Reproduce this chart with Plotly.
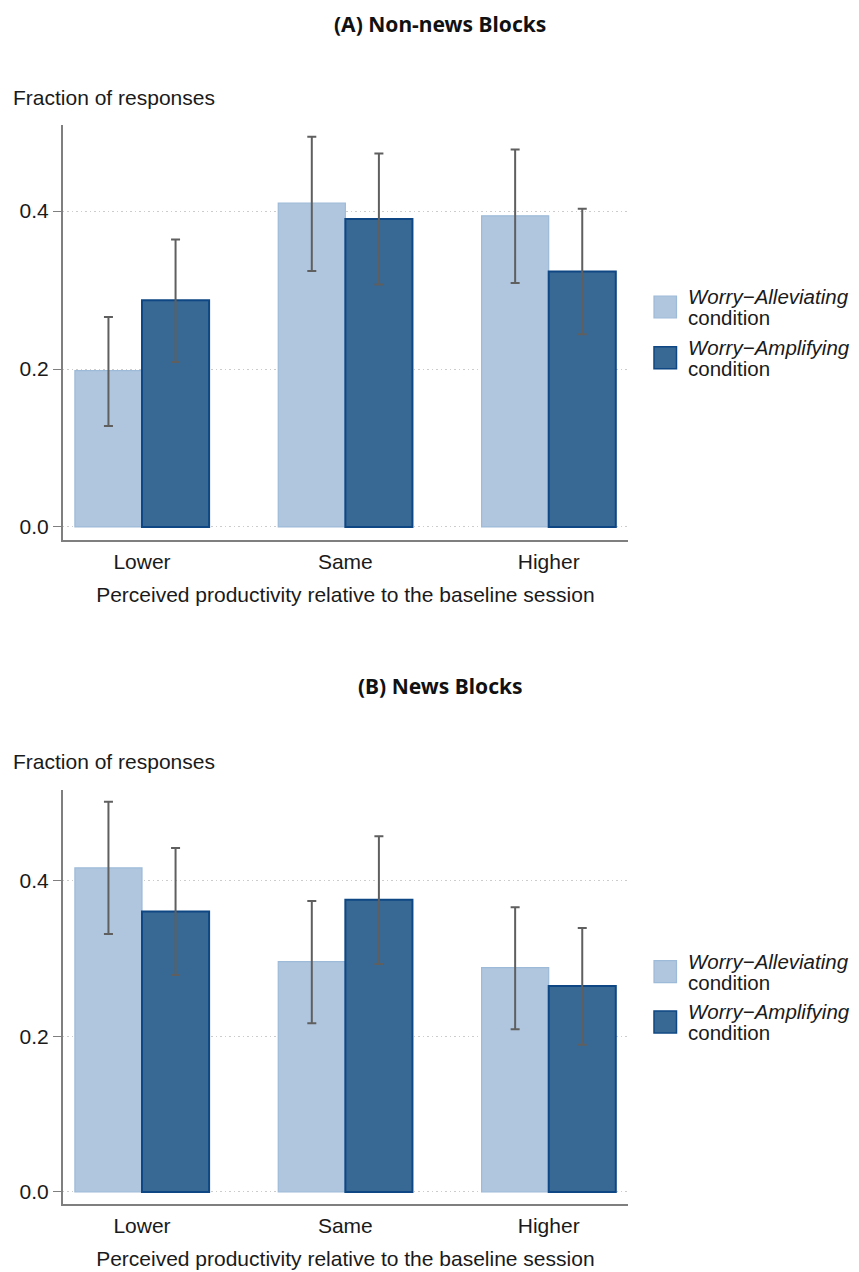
import plotly.graph_objects as go

PAGE_W, PAGE_H = 859, 1272
OFF = 8  # page body margin
W, H = PAGE_W - OFF, PAGE_H - OFF

categories = ["Lower", "Same", "Higher"]
series_names = ["Worry\u2212Alleviating", "Worry\u2212Amplifying"]
series_suffix = "condition"
panel_titles = ["<b>(A) Non-news Blocks</b>", "<b>(B) News Blocks</b>"]
y_ticks = [0.0, 0.2, 0.4]

# Panel A (non-news blocks)
a_allev = [0.198, 0.410, 0.394]
a_allev_hi = [0.266, 0.494, 0.478]
a_allev_lo = [0.128, 0.324, 0.309]
a_ampl = [0.287, 0.390, 0.3235]
a_ampl_hi = [0.364, 0.473, 0.403]
a_ampl_lo = [0.209, 0.307, 0.244]

# Panel B (news blocks)
b_allev = [0.416, 0.2957, 0.288]
b_allev_hi = [0.501, 0.3736, 0.3654]
b_allev_lo = [0.331, 0.2165, 0.209]
b_ampl = [0.360, 0.375, 0.2644]
b_ampl_hi = [0.4416, 0.4566, 0.339]
b_ampl_lo = [0.2786, 0.2927, 0.189]

LIGHT_FILL, LIGHT_LINE = "#b0c6de", "#9dbad8"
DARK_FILL, DARK_LINE = "#386894", "#0e4783"
ERR = "#5f5f5f"
FONT = "Liberation Sans"
TFONT = "Noto Sans"
FS = 21


def px(x):
    return (x - OFF) / W


def py(y):
    return 1 - (y - OFF) / H


fig = go.Figure()


def add_bars(vals, hi, lo, fill, line, lw, xa, ya):
    fig.add_trace(go.Bar(
        x=categories, y=vals, xaxis=xa, yaxis=ya,
        marker=dict(color=fill, line=dict(color=line, width=lw)),
        error_y=dict(type="data", symmetric=False,
                     array=[h - v for h, v in zip(hi, vals)],
                     arrayminus=[v - l for v, l in zip(vals, lo)],
                     color=ERR, thickness=2, width=4.5),
        showlegend=False,
    ))


add_bars(a_allev, a_allev_hi, a_allev_lo, LIGHT_FILL, LIGHT_LINE, 1.2, "x", "y")
add_bars(a_ampl, a_ampl_hi, a_ampl_lo, DARK_FILL, DARK_LINE, 2, "x", "y")
add_bars(b_allev, b_allev_hi, b_allev_lo, LIGHT_FILL, LIGHT_LINE, 1.2, "x2", "y2")
add_bars(b_ampl, b_ampl_hi, b_ampl_lo, DARK_FILL, DARK_LINE, 2, "x2", "y2")

xdom = [px(62.7), px(628)]
xcommon = dict(domain=xdom, range=[-0.39, 2.39], showline=True, linecolor="#7f7f7f",
               linewidth=1.5, ticks="", showgrid=False, zeroline=False,
               ticklabelstandoff=2,
               tickfont=dict(family=FONT, size=FS, color="#1a1a1a"),
               title=dict(text="Perceived productivity relative to the baseline session",
                          font=dict(family=FONT, size=FS, color="#1a1a1a"), standoff=15))
ycommon = dict(showline=True, linecolor="#7f7f7f", linewidth=1.5, ticks="outside",
               ticklen=8, tickcolor="#7f7f7f", tickwidth=1.2, tickvals=y_ticks,
               tickformat=".1f", showgrid=True, gridcolor="#cccccc", griddash="1.5px,3px",
               gridwidth=1, zeroline=False,
               tickfont=dict(family=FONT, size=FS, color="#1a1a1a"))

annotations = []
shapes = []
legend_specs = [
    (8, 97, [307, 357.7]),
    (686, 761, [971.7, 1021.9]),
]
for i, (ty, yt, leg_centers) in enumerate(legend_specs):
    if i == 0:
        annotations.append(dict(text=panel_titles[i], x=px(440), y=1, xref="paper", yref="paper",
                                xanchor="center", yanchor="top", showarrow=False,
                                font=dict(family=TFONT, size=21, color="#111111")))
    else:
        annotations.append(dict(text=panel_titles[i], x=px(440), y=py(ty), xref="paper", yref="paper",
                                xanchor="center", yanchor="middle", showarrow=False,
                                font=dict(family=TFONT, size=21, color="#111111")))
    annotations.append(dict(text="Fraction of responses", x=px(11), y=py(yt), xref="paper", yref="paper",
                            xanchor="left", yanchor="middle", showarrow=False,
                            font=dict(family=FONT, size=FS, color="#1a1a1a")))
    for j, c in enumerate(leg_centers):
        fill, line = (LIGHT_FILL, LIGHT_LINE) if j == 0 else (DARK_FILL, DARK_LINE)
        shapes.append(dict(type="rect", xref="paper", yref="paper",
                           x0=px(654), x1=px(676.5), y0=py(c - 11), y1=py(c + 11),
                           fillcolor=fill, line=dict(color=line, width=1.5 if j else 1.2)))
        annotations.append(dict(text="<i>" + series_names[j] + "</i>", x=px(686), y=py(c - 10.5),
                                xref="paper", yref="paper",
                                xanchor="left", yanchor="middle", align="left", showarrow=False,
                                font=dict(family=FONT, size=20.5, color="#1a1a1a")))
        annotations.append(dict(text=series_suffix, x=px(686), y=py(c + 10.5),
                                xref="paper", yref="paper",
                                xanchor="left", yanchor="middle", align="left", showarrow=False,
                                font=dict(family=FONT, size=20.5, color="#1a1a1a")))

fig.update_layout(
    width=W, height=H, margin=dict(l=0, r=0, t=0, b=0),
    paper_bgcolor="white", plot_bgcolor="white",
    barmode="group", bargap=0.34, bargroupgap=0,
    xaxis=dict(**xcommon, anchor="y"),
    yaxis=dict(**ycommon, domain=[py(540), py(125)], range=[-0.0165, 0.509], anchor="x"),
    xaxis2=dict(**xcommon, anchor="y2"),
    yaxis2=dict(**ycommon, domain=[py(1204.3), py(790)], range=[-0.0158, 0.516], anchor="x2"),
    annotations=annotations, shapes=shapes,
)

fig.write_html("out.html")
